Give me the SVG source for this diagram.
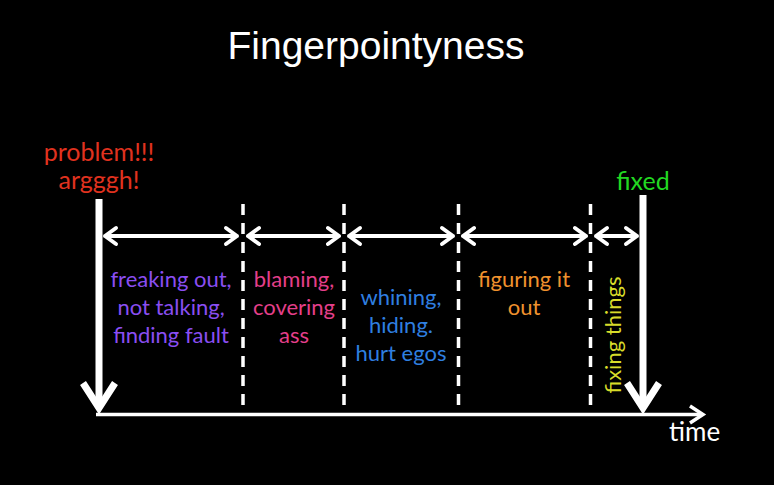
<svg xmlns="http://www.w3.org/2000/svg" width="774" height="485" viewBox="0 0 774 485">
<defs>
<style>
.lbl{font-family:Lato,"Open Sans","Liberation Sans",sans-serif;font-size:22px;text-anchor:middle}
.lg{font-size:25px}
.big{stroke:#fff;stroke-width:7;fill:none;stroke-linecap:butt}
.dash{stroke:#fff;stroke-width:3.5;stroke-dasharray:11 8;fill:none}
.dbl{stroke:#fff;stroke-width:4;fill:none;stroke-linecap:round;stroke-linejoin:round}
</style>
</defs>
<rect width="774" height="485" fill="#000"/>
<text x="376" y="59" font-family="Liberation Sans,Arial,sans-serif" font-size="39" fill="#fff" text-anchor="middle">Fingerpointyness</text>
<g id="connectors">
<g id="axis">
<line x1="96" y1="414.5" x2="702" y2="414.5" stroke="#fff" stroke-width="3.5"/>
<polyline points="690,406 703,414.5 690,423" fill="none" stroke="#fff" stroke-width="3.5" stroke-linejoin="miter"/>
</g>
<g id="start-arrow">
<line class="big" x1="99" y1="199" x2="99" y2="406"/>
<polyline class="big" points="83,383 99,408 115,383"/>
</g>
<g id="end-arrow">
<line class="big" x1="643" y1="195" x2="643" y2="406"/>
<polyline class="big" points="627,383 643,408 659,383"/>
</g>
<g id="dividers">
<line class="dash" x1="243" y1="204" x2="243" y2="414"/>
<line class="dash" x1="344" y1="204" x2="344" y2="414"/>
<line class="dash" x1="458.5" y1="204" x2="458.5" y2="414"/>
<line class="dash" x1="590.5" y1="204" x2="590.5" y2="414"/>
</g>
<g id="spans">
<path class="dbl" d="M105,236H237M116,228L105,236L116,244M226,228L237,236L226,244"/>
<path class="dbl" d="M248,236H339M259,228L248,236L259,244M328,228L339,236L328,244"/>
<path class="dbl" d="M349,236H453M360,228L349,236L360,244M442,228L453,236L442,244"/>
<path class="dbl" d="M463,236H586M474,228L463,236L474,244M575,228L586,236L575,244"/>
<path class="dbl" d="M596,236H637M607,228L596,236L607,244M626,228L637,236L626,244"/>
</g>
</g>
<g id="problem">
<text class="lbl lg" x="99" y="161" fill="#e0321f">problem!!!</text>
<text class="lbl lg" x="99" y="189" fill="#e0321f">argggh!</text>
</g>
<g id="fixed">
<text class="lbl lg" x="643" y="190" fill="#22d822">fixed</text>
</g>
<g id="freaking">
<text class="lbl" x="171" y="287" fill="#8a4ef2">freaking out,</text>
<text class="lbl" x="171" y="315" fill="#8a4ef2">not talking,</text>
<text class="lbl" x="171" y="343" fill="#8a4ef2">finding fault</text>
</g>
<g id="blaming">
<text class="lbl" x="294" y="287" fill="#e43f8a">blaming,</text>
<text class="lbl" x="294" y="315" fill="#e43f8a">covering</text>
<text class="lbl" x="294" y="343" fill="#e43f8a">ass</text>
</g>
<g id="whining">
<text class="lbl" x="401" y="305" fill="#2f7fe0">whining,</text>
<text class="lbl" x="401" y="333" fill="#2f7fe0">hiding.</text>
<text class="lbl" x="401" y="361" fill="#2f7fe0">hurt egos</text>
</g>
<g id="figuring">
<text class="lbl" x="524" y="287" fill="#f0922e">figuring it</text>
<text class="lbl" x="524" y="315" fill="#f0922e">out</text>
</g>
<g id="fixing">
<text class="lbl" transform="translate(621,335) rotate(-90)" x="0" y="0" fill="#d8dc2a">fixing things</text>
</g>
<g id="time">
<text x="669" y="441" font-family="Lato,'Open Sans','Liberation Sans',sans-serif" font-size="26" fill="#fff">time</text>
</g>
</svg>
